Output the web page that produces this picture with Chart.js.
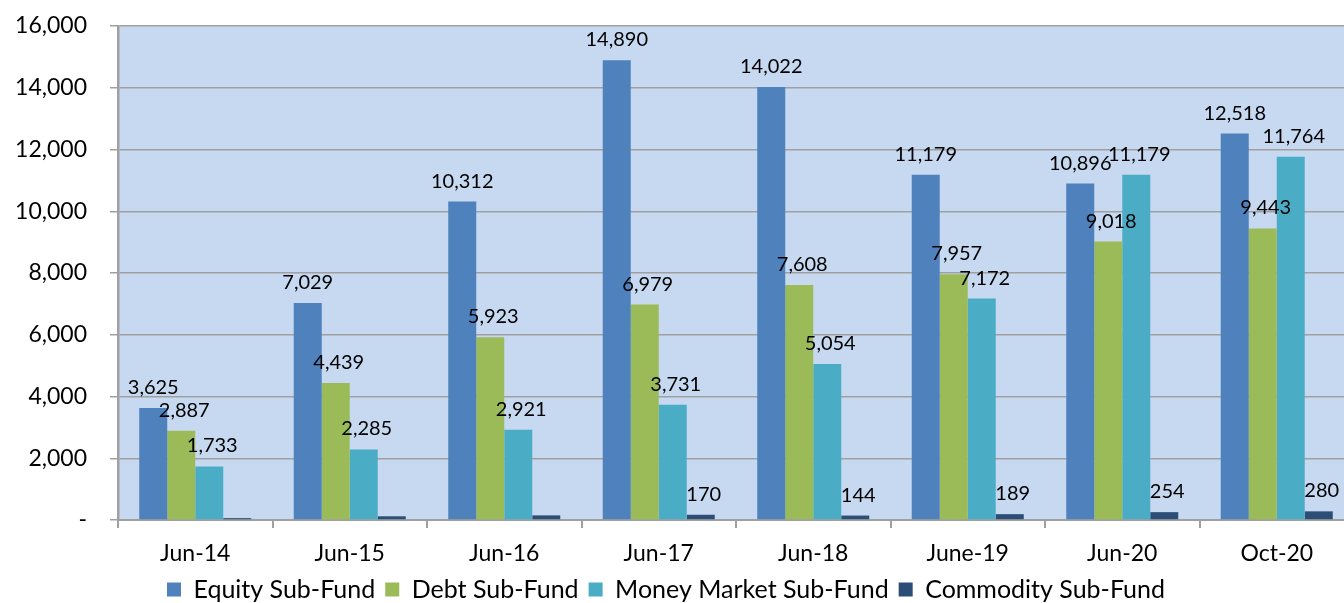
<!DOCTYPE html>
<html>
<head>
<meta charset="utf-8">
<script src="https://cdn.jsdelivr.net/npm/chart.js@4/dist/chart.umd.min.js"></script>
<style>
  html, body { margin: 0; padding: 0; background: #fff; overflow: hidden; }
  #wrap { width: 1362px; height: 603px; position: relative; }
</style>
</head>
<body>
<div id="wrap"><canvas id="fundChart"></canvas></div>
<script>
// categories and values
const categories = ['Jun-14', 'Jun-15', 'Jun-16', 'Jun-17', 'Jun-18', 'June-19', 'Jun-20', 'Oct-20'];
const equity = [3625, 7029, 10312, 14890, 14022, 11179, 10896, 12518];
const debt = [2887, 4439, 5923, 6979, 7608, 7957, 9018, 9443];
const moneyMarket = [1733, 2285, 2921, 3731, 5054, 7172, 11179, 11764];
const commodity = [60, 120, 150, 170, 144, 189, 254, 280];
// the first three commodity bars carry no label in the source
const commodityLabelled = [false, false, false, true, true, true, true, true];
const yTicks = [0, 2000, 4000, 6000, 8000, 10000, 12000, 14000, 16000];

const FONT = 'Lato, "Liberation Sans", sans-serif';
const AXIS = '#a0a0a0';

const fmt = v => v === 0 ? '-' : v.toLocaleString('en-US');

// ---------- data labels above bars ----------
const barLabels = {
  id: 'barLabels',
  afterDatasetsDraw(chart) {
    const c = chart.ctx;
    c.save();
    c.font = '20px ' + FONT;
    c.fillStyle = '#000';
    c.textAlign = 'center';
    c.textBaseline = 'alphabetic';
    chart.data.datasets.forEach((ds, di) => {
      const meta = chart.getDatasetMeta(di);
      meta.data.forEach((bar, i) => {
        if (ds.showLabel && !ds.showLabel[i]) return;
        c.fillText(fmt(ds.data[i]), bar.x + (di === 0 ? 0 : 3), bar.y - 14);
      });
    });
    c.restore();
  }
};

// nudge legend a little left, like the source
const legendShift = {
  id: 'legendShift',
  afterLayout(chart) {
    const lg = chart.legend;
    if (lg) { lg.left -= 11; lg.right -= 11; }
  }
};

const ctx = document.getElementById('fundChart').getContext('2d');
new Chart(ctx, {
  type: 'bar',
  data: {
    labels: categories,
    datasets: [
      { label: 'Equity Sub-Fund', data: equity, backgroundColor: '#4f81bd' },
      { label: 'Debt Sub-Fund', data: debt, backgroundColor: '#9bbb59' },
      { label: 'Money Market Sub-Fund', data: moneyMarket, backgroundColor: '#4bacc6' },
      { label: 'Commodity Sub-Fund', data: commodity, backgroundColor: '#2c4d75', showLabel: commodityLabelled },
    ]
  },
  options: {
    responsive: true,
    maintainAspectRatio: false,
    animation: false,
    events: [],
    layout: { padding: { top: 26, right: 8, left: 0, bottom: 0 } },
    datasets: { bar: { categoryPercentage: 0.725, barPercentage: 1.0 } },
    plugins: {
      tooltip: { enabled: false },
      legend: {
        position: 'bottom',
        maxHeight: 36,
        labels: {
          font: { family: FONT, size: 25 },
          color: '#000',
          boxWidth: 14,
          boxHeight: 14,
          padding: 10,
        }
      }
    },
    scales: {
      x: {
        afterFit: axis => { axis.height = 47; axis.paddingLeft = 0; axis.paddingRight = 0; },
        grid: { display: true, drawOnChartArea: false, offset: true, color: AXIS, lineWidth: 2, tickLength: 8 },
        border: { color: AXIS, width: 2 },
        ticks: { font: { family: FONT, size: 23 }, color: '#000', padding: 12, maxRotation: 0 },
      },
      y: {
        min: 0,
        max: 16000,
        afterBuildTicks: axis => { axis.ticks = yTicks.map(v => ({ value: v })); },
        afterFit: axis => { axis.width = 118; axis.paddingTop = 0; axis.paddingBottom = 0; },
        grid: { color: AXIS, lineWidth: 1.5, tickLength: 8 },
        border: { color: AXIS, width: 2.5 },
        ticks: { font: { family: FONT, size: 23 }, color: '#000', padding: 23, callback: v => fmt(v) },
      }
    }
  },
  plugins: [barLabels, legendShift, {
    id: 'plotBg',
    beforeDraw(chart) {
      const a = chart.chartArea;
      chart.ctx.save();
      chart.ctx.fillStyle = '#c6d9f1';
      chart.ctx.fillRect(a.left, a.top, a.right - a.left, a.bottom - a.top);
      chart.ctx.restore();
    }
  }]
});
</script>
</body>
</html>
